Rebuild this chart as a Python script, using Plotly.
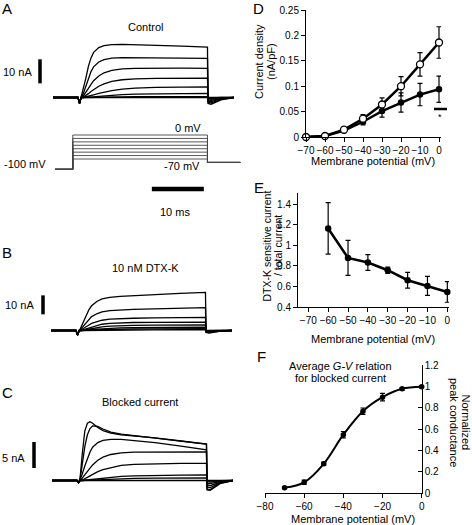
import plotly.graph_objects as go

W, H = 472, 525
FONT = "Liberation Sans, Arial, sans-serif"

# ---------------- data ----------------
STEP_MV = [0, -10, -20, -30, -40, -50, -60, -70]
TIME_MS = [-4.8, 0.0, 0.3, 0.6, 1.0, 1.5, 2.0, 2.5, 3.0, 4.0, 5.0, 6.5, 8.5, 11.0, 15.0, 20.0, 24.9, 25.0, 25.6, 27.5, 30.0]

CONTROL_NA = [
    [0, 0, -2.4, 0, 3.0, 8.0, 13.0, 16.5, 18.8, 20.8, 21.6, 22.0, 22.1, 22.0, 21.8, 21.4, 21.0, -2.5, -2.8, -1.0, 0],
    [0, 0, -2.4, 0, 1.5, 4.5, 8.0, 10.8, 12.8, 14.8, 15.8, 16.4, 16.6, 16.6, 16.5, 16.4, 16.3, -2.0, -2.2, -0.8, 0],
    [0, 0, -2.4, 0, 0.6, 2.0, 3.8, 5.5, 7.0, 9.0, 10.3, 11.3, 11.9, 12.1, 12.2, 12.2, 12.1, -1.5, -1.7, -0.6, 0],
    [0, 0, -2.4, 0, 0.2, 0.8, 1.6, 2.5, 3.3, 4.7, 5.7, 6.7, 7.4, 7.8, 8.0, 8.1, 8.1, -1.0, -1.2, -0.5, 0],
    [0, 0, -2.4, 0, 0.0, 0.2, 0.5, 0.8, 1.1, 1.7, 2.3, 2.9, 3.5, 3.9, 4.2, 4.35, 4.4, -0.6, -0.8, -0.3, 0],
    [0, 0, -2.4, 0, 0.0, 0.0, 0.1, 0.2, 0.3, 0.5, 0.7, 0.95, 1.2, 1.4, 1.55, 1.65, 1.7, -0.3, -0.4, -0.2, 0],
    [0, 0, -2.4, 0, 0.0, 0.0, 0.0, 0.0, 0.05, 0.1, 0.15, 0.2, 0.27, 0.32, 0.37, 0.4, 0.4, -0.1, -0.2, 0, 0],
    [0, 0, -2.4, 0, 0, 0, 0, 0, 0, 0, 0, 0, 0, 0, 0, 0, 0, 0, -0.1, 0, 0],
]

DTX_NA = [
    [0, 0, -2.4, 0, 2.0, 5.0, 8.5, 11.0, 13.0, 15.3, 16.6, 17.4, 18.0, 18.4, 18.9, 19.5, 20.1, -1.0, -1.3, -0.5, 0],
    [0, 0, -2.4, 0, 1.0, 2.5, 4.4, 6.0, 7.3, 8.8, 9.8, 10.5, 10.9, 11.1, 11.4, 11.7, 12.0, -0.8, -1.0, -0.4, 0],
    [0, 0, -2.4, 0, 0.4, 1.1, 2.0, 2.9, 3.7, 4.7, 5.4, 6.0, 6.3, 6.45, 6.6, 6.75, 6.9, -0.5, -0.7, -0.3, 0],
    [0, 0, -2.4, 0, 0.1, 0.5, 1.0, 1.5, 2.0, 2.8, 3.3, 3.8, 4.05, 4.2, 4.25, 4.3, 4.35, -0.4, -0.5, -0.2, 0],
    [0, 0, -2.4, 0, 0.0, 0.25, 0.5, 0.75, 1.0, 1.5, 1.9, 2.3, 2.55, 2.7, 2.85, 2.9, 2.9, -0.3, -0.4, -0.1, 0],
    [0, 0, -2.4, 0, 0.0, 0.06, 0.13, 0.25, 0.4, 0.65, 0.9, 1.15, 1.35, 1.5, 1.6, 1.65, 1.7, -0.1, -0.25, -0.1, 0],
    [0, 0, -2.4, 0, 0.0, 0.0, 0.06, 0.13, 0.2, 0.3, 0.45, 0.6, 0.7, 0.8, 0.9, 0.95, 0.95, 0, -0.1, 0, 0],
    [0, 0, -2.4, 0, 0, 0, 0, 0.06, 0.06, 0.13, 0.2, 0.25, 0.3, 0.3, 0.38, 0.4, 0.4, 0, 0, 0, 0],
]

BLOCKED_NA = [
    [0, 0, -0.4, 0.5, 5.0, 9.5, 11.0, 11.3, 11.0, 10.2, 9.6, 9.1, 8.8, 8.6, 8.2, 7.6, 7.0, -1.8, -1.9, -0.6, 0],
    [0, 0, -0.4, 0.3, 3.0, 6.5, 8.8, 10.0, 10.5, 10.4, 9.9, 9.3, 8.9, 8.6, 8.2, 7.6, 7.0, -1.6, -1.8, -0.5, 0],
    [0, 0, -0.4, 0.2, 1.2, 2.8, 4.3, 5.5, 6.4, 7.3, 7.7, 7.9, 7.9, 7.7, 7.3, 6.6, 5.9, -1.2, -1.4, -0.4, 0],
    [0, 0, -0.4, 0, 0.4, 1.0, 1.7, 2.4, 3.0, 3.9, 4.5, 5.0, 5.3, 5.45, 5.5, 5.5, 5.5, -0.8, -1.0, -0.3, 0],
    [0, 0, -0.4, 0, 0.1, 0.3, 0.6, 0.9, 1.2, 1.7, 2.1, 2.5, 2.9, 3.1, 3.25, 3.3, 3.3, -0.5, -0.6, -0.2, 0],
    [0, 0, -0.4, 0, 0, 0.05, 0.1, 0.15, 0.2, 0.35, 0.5, 0.65, 0.8, 0.9, 1.0, 1.05, 1.06, -0.2, -0.3, -0.1, 0],
    [0, 0, -0.4, 0, 0, 0, 0.02, 0.05, 0.08, 0.12, 0.18, 0.25, 0.32, 0.4, 0.45, 0.5, 0.5, -0.1, -0.1, 0, 0],
    [0, 0, -0.4, 0, 0, 0, 0, 0, 0, 0, 0, 0, 0, 0, 0, 0, 0, 0, 0, 0, 0],
]

PROTOCOL_T = [-4.4, -1.0, 24.9, 31.2]
HOLD_MV = -100
TAIL_MV = -80

VM = [-70, -60, -50, -40, -30, -20, -10, 0]
D_CONTROL = [0.0, 0.002, 0.0145, 0.036, 0.064, 0.100, 0.143, 0.186]
D_CONTROL_ERR = [0.0, 0.001, 0.002, 0.008, 0.013, 0.019, 0.023, 0.031]
D_DTX = [0.0, 0.002, 0.0125, 0.030, 0.051, 0.068, 0.0835, 0.094]
D_DTX_ERR = [0.0, 0.001, 0.002, 0.006, 0.012, 0.019, 0.022, 0.026]

VM_E = [-60, -50, -40, -30, -20, -10, 0]
E_RATIO = [1.163, 0.877, 0.832, 0.757, 0.66, 0.605, 0.546]
E_ERR = [0.25, 0.17, 0.077, 0.03, 0.077, 0.093, 0.10]

F_G = [0.053, 0.103, 0.276, 0.548, 0.768, 0.899, 0.977, 0.996]
F_ERR = [0.01, 0.02, 0.015, 0.03, 0.03, 0.035, 0.012, 0.01]

D_TICKS = [0, 0.05, 0.1, 0.15, 0.2, 0.25]
E_TICKS = [0.4, 0.6, 0.8, 1.0, 1.2, 1.4]
F_TICKS = [0, 0.2, 0.4, 0.6, 0.8, 1.0, 1.2]
X_TICKS = [-70, -60, -50, -40, -30, -20, -10, 0]
F_XTICKS = [-80, -60, -40, -20, 0]


# ---------------- helpers (pixel layout) ----------------
def dom_x(p0, p1):
    return [p0 / W, p1 / W]


def dom_y(pt, pb):
    return [1 - pb / H, 1 - pt / H]


def rng_x(p0, p1, pref, vref, s):
    return [vref + (p0 - pref) / s, vref + (p1 - pref) / s]


def rng_y(pt, pb, pref, vref, s):
    return [vref - (pb - pref) / s, vref - (pt - pref) / s]


fig = go.Figure()
hidden = dict(visible=False, showgrid=False, zeroline=False, fixedrange=True)

PX_MS = 5.2
fig.update_layout(
    xaxis=dict(domain=dom_x(0, 242), range=rng_x(0, 242, 78, 0, PX_MS), **hidden),
    yaxis=dict(domain=dom_y(25, 112), range=rng_y(25, 112, 97.5, 0, 2.4), anchor="x", **hidden),
    xaxis2=dict(domain=dom_x(0, 242), range=rng_x(0, 242, 78, 0, PX_MS), anchor="y2", **hidden),
    yaxis2=dict(domain=dom_y(120, 200), range=rng_y(120, 200, 135, 0, 0.343), anchor="x2", **hidden),
    xaxis3=dict(domain=dom_x(0, 242), range=rng_x(0, 242, 76, 0, PX_MS), anchor="y3", **hidden),
    yaxis3=dict(domain=dom_y(280, 345), range=rng_y(280, 345, 330.5, 0, 1.9), anchor="x3", **hidden),
    xaxis4=dict(domain=dom_x(0, 242), range=rng_x(0, 242, 77, 0, PX_MS), anchor="y4", **hidden),
    yaxis4=dict(domain=dom_y(405, 500), range=rng_y(405, 500, 480.5, 0, 5.2), anchor="x4", **hidden),
)

for vals in CONTROL_NA:
    fig.add_trace(go.Scatter(x=TIME_MS, y=vals, mode="lines", line=dict(color="black", width=1.3),
                             xaxis="x", yaxis="y", showlegend=False, hoverinfo="skip"))
for vals in DTX_NA:
    fig.add_trace(go.Scatter(x=TIME_MS, y=vals, mode="lines", line=dict(color="black", width=1.3),
                             xaxis="x3", yaxis="y3", showlegend=False, hoverinfo="skip"))
for vals in BLOCKED_NA:
    fig.add_trace(go.Scatter(x=TIME_MS, y=vals, mode="lines", line=dict(color="black", width=1.3),
                             xaxis="x4", yaxis="y4", showlegend=False, hoverinfo="skip"))

# voltage protocol
for v in STEP_MV:
    fig.add_trace(go.Scatter(
        x=[PROTOCOL_T[0], PROTOCOL_T[1], PROTOCOL_T[1], PROTOCOL_T[2], PROTOCOL_T[2], PROTOCOL_T[3]],
        y=[HOLD_MV, HOLD_MV, v, v, TAIL_MV, TAIL_MV], mode="lines",
        line=dict(color="#444", width=0.9), xaxis="x2", yaxis="y2", showlegend=False, hoverinfo="skip"))

# scale bars (10 nA, 10 nA, 5 nA, 10 ms)
fig.add_trace(go.Scatter(x=[(40 - 78) / PX_MS] * 2, y=[5.9, 15.9], mode="lines", line=dict(color="black", width=3.5),
                         xaxis="x", yaxis="y", showlegend=False, hoverinfo="skip"))
fig.add_trace(go.Scatter(x=[(43 - 76) / PX_MS] * 2, y=[8.5, 18.5], mode="lines", line=dict(color="black", width=3.5),
                         xaxis="x3", yaxis="y3", showlegend=False, hoverinfo="skip"))
fig.add_trace(go.Scatter(x=[(34 - 77) / PX_MS] * 2, y=[2.4, 7.4], mode="lines", line=dict(color="black", width=3.5),
                         xaxis="x4", yaxis="y4", showlegend=False, hoverinfo="skip"))
fig.add_trace(go.Scatter(x=[14.2, 24.2], y=[-157.4, -157.4], mode="lines", line=dict(color="black", width=4.5),
                         xaxis="x2", yaxis="y2", showlegend=False, hoverinfo="skip"))

# ---------------- right panels ----------------
axstyle = dict(showgrid=False, zeroline=False, showline=True, linecolor="black", linewidth=1,
               ticks="outside", ticklen=4, tickcolor="black", tickwidth=1, tickangle=0,
               tickfont=dict(family=FONT, size=10, color="black"), fixedrange=True)

fig.update_layout(
    xaxis5=dict(domain=dom_x(306, 441), range=rng_x(306, 441, 306, -70, 1.9), anchor="y5",
                tickvals=X_TICKS, **axstyle),
    yaxis5=dict(domain=dom_y(10, 137), range=[0, 0.25], anchor="x5", tickvals=D_TICKS, **axstyle),
    xaxis6=dict(domain=dom_x(298, 449), range=rng_x(298, 449, 308.3, -70, 1.986), anchor="y6",
                tickvals=X_TICKS, **axstyle),
    yaxis6=dict(domain=dom_y(193, 307), range=[0.4, 1.507], anchor="x6", tickvals=E_TICKS, **axstyle),
    xaxis7=dict(domain=dom_x(265, 421.7), range=[-80, 0], anchor="y7", tickvals=F_XTICKS, **axstyle),
    yaxis7=dict(domain=dom_y(365, 493.3), range=[0, 1.2], anchor="x7", side="right", tickvals=F_TICKS,
                **{**axstyle, "ticks": "inside"}),
)

err = lambda a: dict(type="data", array=a, visible=True, color="black", thickness=1.2, width=2.5)

fig.add_trace(go.Scatter(x=VM, y=D_DTX, error_y=err(D_DTX_ERR), mode="lines+markers",
                         line=dict(color="black", width=2.5), marker=dict(size=6.5, color="black"),
                         xaxis="x5", yaxis="y5", showlegend=False, cliponaxis=False))
fig.add_trace(go.Scatter(x=VM, y=D_CONTROL, error_y=err(D_CONTROL_ERR), mode="lines+markers",
                         line=dict(color="black", width=2.5),
                         marker=dict(size=7, color="white", line=dict(color="black", width=1.3)),
                         xaxis="x5", yaxis="y5", showlegend=False, cliponaxis=False))

fig.add_trace(go.Scatter(x=VM_E, y=E_RATIO, error_y=err(E_ERR), mode="lines+markers",
                         line=dict(color="black", width=2.5), marker=dict(size=6.5, color="black"),
                         xaxis="x6", yaxis="y6", showlegend=False, cliponaxis=False))

fig.add_trace(go.Scatter(x=VM, y=F_G, mode="lines", line=dict(color="black", width=2, shape="spline", smoothing=1.0),
                         xaxis="x7", yaxis="y7", showlegend=False, cliponaxis=False))
fig.add_trace(go.Scatter(x=VM, y=F_G, error_y=err(F_ERR), mode="markers",
                         marker=dict(size=5.5, color="black"),
                         xaxis="x7", yaxis="y7", showlegend=False, cliponaxis=False))

# significance bar in D
fig.add_shape(type="line", xref="paper", yref="paper", x0=434 / W, x1=447 / W, y0=1 - 109 / H, y1=1 - 109 / H,
              line=dict(color="black", width=2.5))

# ---------------- text ----------------
def txt(x, y, s, size=11, angle=0, **kw):
    fig.add_annotation(x=x / W, y=1 - y / H, xref="paper", yref="paper", text=s, showarrow=False,
                       textangle=angle, font=dict(family=FONT, size=size, color="black"),
                       xanchor=kw.get("xanchor", "center"), yanchor=kw.get("yanchor", "middle"))


txt(7, 9, "A", 15)
txt(7, 252, "B", 15)
txt(7, 392, "C", 15)
txt(258, 8, "D", 15)
txt(259, 188, "E", 15)
txt(261, 356, "F", 15)

txt(145, 27, "Control")
txt(17, 72, "10 nA")
txt(188, 128, "0 mV")
txt(182, 166, "-70 mV")
txt(25, 164, "-100 mV")
txt(175, 212, "10 ms")
txt(145, 268, "10 nM DTX-K")
txt(19, 305, "10 nA")
txt(140, 402, "Blocked current")
txt(13, 458, "5 nA")

txt(440, 117, "*", 9)
txt(259, 62, "Current density", 11, -90)
txt(271, 62, "(nA/pF)", 11, -90)
txt(373, 161, "Membrane potential (mV)")
txt(266.5, 246, "DTX-K sensitive current", 10.5, -90)
txt(278, 246, "/ total current", 10.5, -90)
txt(373, 339, "Membrane potential (mV)")
txt(340, 366, "Average <i>G-V</i> relation")
txt(340, 377.5, "for blocked current")
txt(465.5, 422, "Normalized", 11, 90)
txt(454, 422, "peak conductance", 11, 90)
txt(353, 518.5, "Membrane potential (mV)")

fig.update_layout(width=W, height=H, margin=dict(l=0, r=0, t=0, b=0, autoexpand=False),
                  paper_bgcolor="white", plot_bgcolor="rgba(0,0,0,0)", showlegend=False)

fig.write_html("out.html", config={"displayModeBar": False, "staticPlot": True},
               post_script="document.body.style.margin='0';document.body.style.overflow='hidden';")
